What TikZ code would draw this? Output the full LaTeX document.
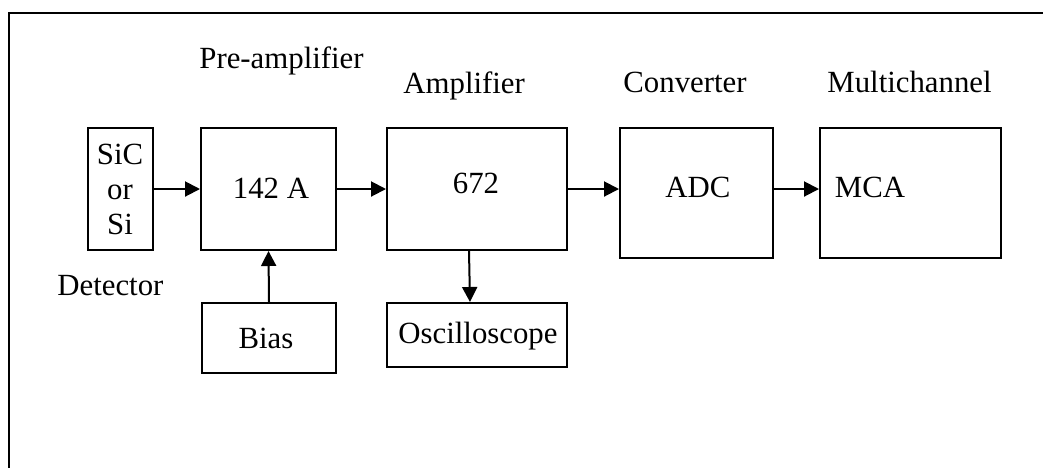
\documentclass[tikz,border=0pt]{standalone}
\usepackage{fontspec}
\setmainfont{Liberation Serif}
\usetikzlibrary{arrows.meta,calc}

\begin{document}
\begin{tikzpicture}[
  x=0.5pt, y=-0.5pt,
  every node/.style={font=\fontsize{15.4}{17}\selectfont},
  box/.style={draw, line width=1pt, rectangle, inner sep=0pt},
  txt/.style={inner sep=0pt},
  arr/.style={line width=1pt, -{Triangle[length=7.5pt,width=7.5pt]}},
  frame/.style={line width=1.3pt}
]
\useasboundingbox (0,0) rectangle (1043,468);

% outer frame (top and left edges)
\coordinate (ftr) at (1043,13);
\coordinate (ftl) at (9,13);
\coordinate (fbl) at (9,468);
\draw[frame] (ftr) -- (ftl) -- (fbl);

% blocks
\node[box, minimum width=32.5pt, minimum height=61pt] (sic)  at (120.5,189) {};
\node[box, minimum width=67.5pt, minimum height=61pt] (pre)  at (268.5,189) {};
\node[box, minimum width=67pt,   minimum height=35pt] (bias) at (269,338) {};
\node[box, minimum width=90pt,   minimum height=61pt] (amp)  at (477,189) {};
\node[box, minimum width=90pt,   minimum height=32pt] (osc)  at (477,335) {};
\node[box, minimum width=76.5pt, minimum height=65pt] (adc)  at (696.5,193) {};
\node[box, minimum width=90.5pt, minimum height=65pt] (mca)  at (910.5,193) {};

% block texts
\node[txt, anchor=base] (sic1) at (120,164) {SiC};
\node[txt, anchor=base] (sic2) at (120,199) {or};
\node[txt, anchor=base] (sic3) at (120,234) {Si};
\node[txt, anchor=base] (pret)  at (271,198) {142 A};
\node[txt, anchor=base] (biast) at (266,348) {Bias};
\node[txt, anchor=base] (ampt)  at (476,193) {672};
\node[txt, anchor=base] (osct)  at (478,343) {Oscilloscope};
\node[txt, anchor=base] (adct)  at (698,197) {ADC};
\node[txt, anchor=base] (mcat)  at (870,197) {MCA};

% stage labels
\node[txt, anchor=base west] (lpre) at (199,68) {Pre-amplifier};
\node[txt, anchor=base west] (lamp) at (403,93) {Amplifier};
\node[txt, anchor=base west] (lcon) at (623,92) {Converter};
\node[txt, anchor=base west] (lmul) at (827,92) {Multichannel};
\node[txt, anchor=base west] (ldet) at (57,295) {Detector};

% signal path
\draw[arr] (sic.east) -- (pre.west);
\draw[arr] (pre.east) -- (amp.west);
\draw[arr] (amp.east) -- (amp.east -| adc.west);
\draw[arr] (adc.east |- amp.east) -- (mca.west |- amp.east);
\draw[arr] (bias.north) -- (pre.south);
\draw[arr] ($(amp.south)+(-8,0)$) -- ($(osc.north)+(-7,0)$);
\end{tikzpicture}
\end{document}
